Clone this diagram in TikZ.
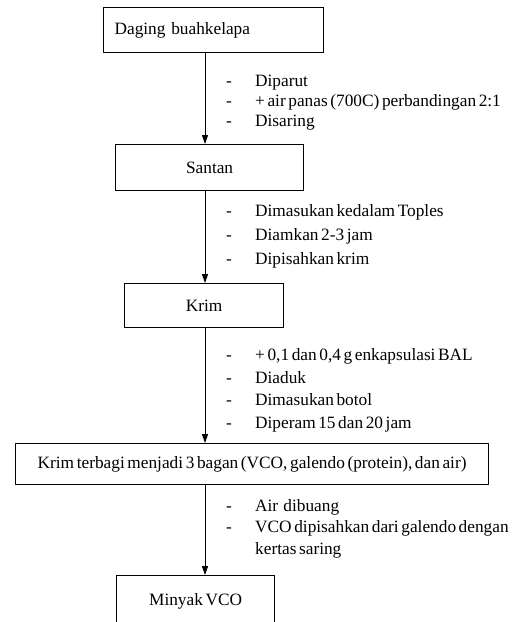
\documentclass[tikz,border=0pt]{standalone}
\usepackage{fontspec}
\setmainfont{Liberation Serif}
\usetikzlibrary{arrows.meta}
\newcommand\hurufalur[1]{\fontsize{17.3}{#1}\selectfont\spaceskip 2.6pt plus 1pt minus 1pt\relax}
\begin{document}
\begin{tikzpicture}[x=1pt, y=-1pt,
  every node/.style={font=\hurufalur{22.5}},
  kotak/.style={draw, line width=1.2pt, inner sep=0pt, anchor=north west},
  ket/.style={anchor=north west, inner sep=0pt},
  panah/.style={-{Triangle[length=9pt,width=6pt]}, line width=0.9pt}]
  \clip (0,0) rectangle (515,622);
  \coordinate (sumbu) at (205,0);
  % kotak alur
  \node[kotak, minimum width=220pt, minimum height=45pt, text width=198pt, align=left] (daging) at (103,7) {Daging buahkelapa};
  \node[kotak, minimum width=188pt, minimum height=46pt] (santan) at (115,144) {Santan};
  \node[kotak, minimum width=159pt, minimum height=44pt] (krim) at (124,283) {Krim};
  \node[kotak, minimum width=473pt, minimum height=41pt] (bagian) at (15,443) {Krim terbagi menjadi 3 bagan (VCO, galendo (protein), dan air)};
  \node[kotak, minimum width=158pt, minimum height=52pt] (vco) at (116,575) {Minyak VCO};
  % keterangan tiap tahap
  \node[ket, font=\hurufalur{20}] (ket1) at (226,72) {\begin{tabular}{@{}p{29pt}@{}l@{}}
    - & Diparut\\
    - & + air panas (700C) perbandingan 2:1\\
    - & Disaring
  \end{tabular}};
  \node[ket, font=\hurufalur{24}] (ket2) at (226,199) {\begin{tabular}{@{}p{29pt}@{}l@{}}
    - & Dimasukan kedalam Toples\\
    - & Diamkan 2-3 jam\\
    - & Dipisahkan krim
  \end{tabular}};
  \node[ket] (ket3) at (226,345) {\begin{tabular}{@{}p{29pt}@{}l@{}}
    - & + 0,1 dan 0,4 g enkapsulasi BAL\\
    - & Diaduk\\
    - & Dimasukan botol\\
    - & Diperam 15 dan 20 jam
  \end{tabular}};
  \node[ket, font=\hurufalur{21.5}] (ket4) at (226,496) {\begin{tabular}{@{}p{29pt}@{}l@{}}
    - & Air\ \ dibuang\\
    - & VCO dipisahkan dari galendo dengan\\
      & kertas saring
  \end{tabular}};
  % panah
  \draw[panah] (daging.south -| sumbu) -- (santan.north -| sumbu);
  \draw[panah] (santan.south -| sumbu) -- (krim.north -| sumbu);
  \draw[panah] (krim.south -| sumbu) -- (bagian.north -| sumbu);
  \draw[panah] (bagian.south -| sumbu) -- (vco.north -| sumbu);
\end{tikzpicture}
\end{document}
